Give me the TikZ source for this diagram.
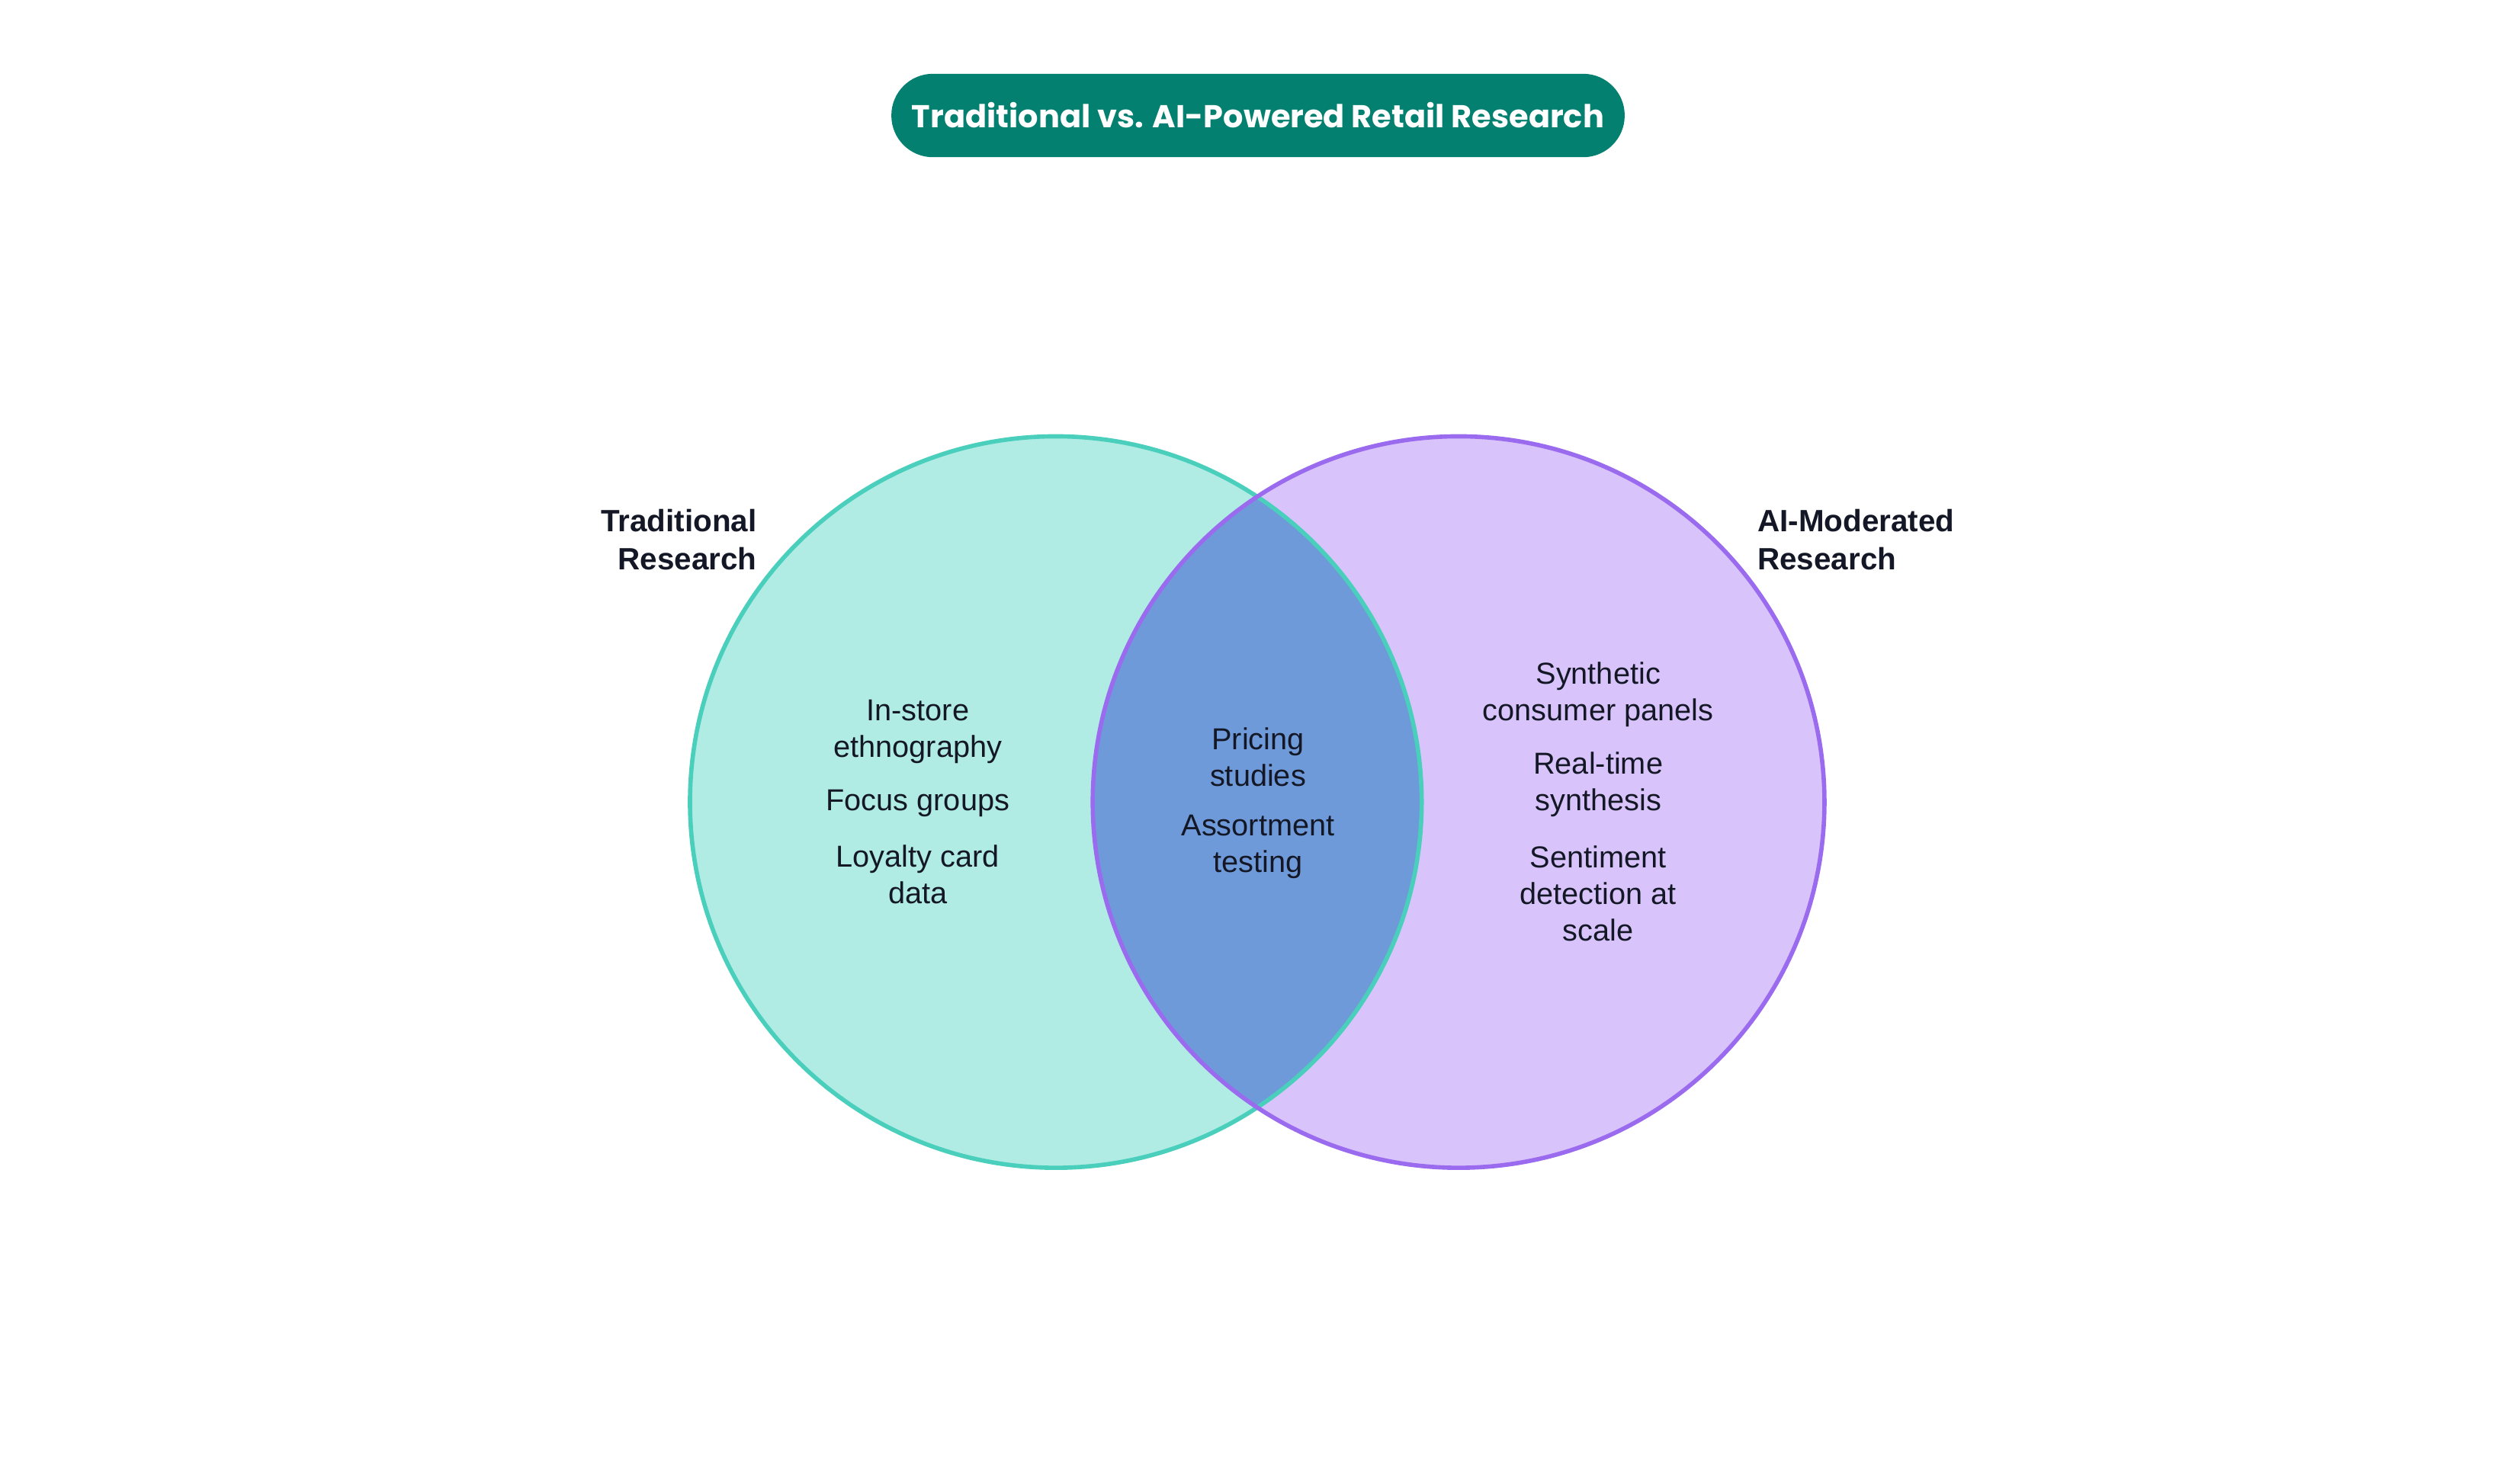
\documentclass[tikz,border=0pt]{standalone}
\usepackage{fontspec}
\setmainfont{Liberation Sans}
\newfontfamily\titlefont{Poppins}
\usetikzlibrary{positioning}
\definecolor{tradfill}{HTML}{B0ECE4}
\definecolor{tradline}{HTML}{4ACFBC}
\definecolor{aifill}{HTML}{D8C4FA}
\definecolor{ailine}{HTML}{9A6BEE}
\definecolor{bothfill}{HTML}{6F9AD9}
\definecolor{pillfill}{HTML}{038070}
\definecolor{inkdark}{HTML}{141826}

\begin{document}
\begin{tikzpicture}[x=0.021046cm, y=-0.021046cm]
    \tikzset{
        item/.style={align=center, text=inkdark, font=\fontsize{11.3}{13.7}\selectfont, inner sep=0pt},
        setlabel/.style={text=inkdark, font=\fontsize{11.5}{14.3}\selectfont\bfseries, inner sep=0pt},
        pill/.style={fill=pillfill, rounded corners=15.5pt, minimum width=457*0.021046cm, minimum height=52*0.021046cm, text=white, font=\titlefont\fontsize{11.8}{14}\selectfont\bfseries}
    }
    \useasboundingbox (0,0) rectangle (1568,925);

    \node[pill] (title) at (784,72) {Traditional vs. AI-Powered Retail Research};

    % the two sets
    \coordinate (tradc) at (658,500);
    \coordinate (aic) at (909,500);
    \fill[tradfill] (tradc) circle[radius=228];
    \fill[aifill] (aic) circle[radius=228];
    \begin{scope}
        \clip (tradc) circle[radius=228];
        \fill[bothfill] (aic) circle[radius=228];
    \end{scope}
    \draw[tradline, line width=1.6pt] (tradc) circle[radius=228];
    \draw[ailine, line width=1.6pt] (aic) circle[radius=228];

    \node[setlabel, anchor=north east, align=right] (tradlabel) at (472,317) {Traditional\\Research};
    \node[setlabel, anchor=north west, align=left] (ailabel) at (1095,317) {AI-Moderated\\Research};

    % left only
    \node[item] (ethno) at (572,456) {In-store\\ethnography};
    \node[item] (focus) at (572,501) {Focus groups};
    \node[item] (loyalty) at (572,545) {Loyalty card\\data};

    % overlap
    \node[item] (pricing) at (784,472) {Pricing\\studies};
    \node[item] (assort) at (784,528) {Assortment\\testing};

    % right only
    \node[item] (panels) at (996,433) {Synthetic\\consumer panels};
    \node[item] (realtime) at (996,489) {Real-time\\synthesis};
    \node[item] (sentiment) at (996,557) {Sentiment\\detection at\\scale};
\end{tikzpicture}
\end{document}
